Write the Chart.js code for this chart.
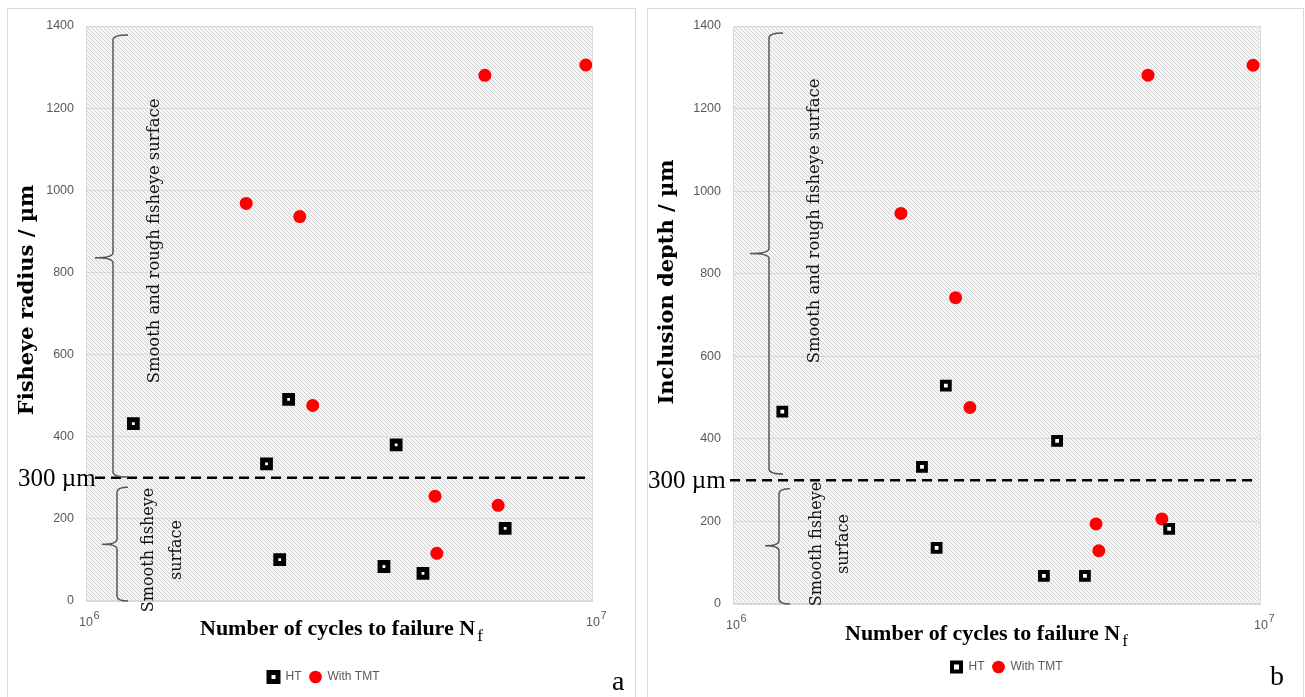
<!DOCTYPE html>
<html>
<head>
<meta charset="utf-8">
<script src="https://cdn.jsdelivr.net/npm/chart.js@4.4.1/dist/chart.umd.min.js"></script>
<style>
  body { margin: 0; width: 1305px; height: 697px; position: relative; overflow: hidden; background: #fff; }
  .panel { position: absolute; top: 8px; height: 720px; border: 1px solid #d9d9d9; box-sizing: border-box; }
  canvas { position: absolute; top: 0; }
</style>
</head>
<body>
<div class="panel" style="left:7px; width:629px;"></div>
<div class="panel" style="left:647px; width:657px;"></div>
<canvas id="chartA" width="640" height="697" style="left:0px"></canvas>
<canvas id="chartB" width="665" height="697" style="left:640px"></canvas>

<script>
// ---- data ----
const seriesNames = ['HT', 'With TMT'];
const xTickValues = [1e6, 1e7];
const xTickExponents = ['6', '7'];   // tick labels are 10^6 and 10^7
const yTicks = [0, 200, 400, 600, 800, 1000, 1200, 1400];

// panel a: fisheye radius (µm) vs cycles to failure
const htCyclesA = [1.24e6, 2.27e6, 2.51e6, 2.41e6, 4.09e6, 3.87e6, 4.62e6, 6.71e6];
const htRadiusA = [432, 334, 491, 101, 380, 84, 67, 177];
const tmtCyclesA = [2.07e6, 2.64e6, 2.80e6, 6.12e6, 9.68e6, 4.88e6, 4.92e6, 6.50e6];
const tmtRadiusA = [968, 936, 476, 1280, 1305, 255, 116, 233];

// panel b: inclusion depth (µm) vs cycles to failure
const htCyclesB = [1.24e6, 2.28e6, 2.43e6, 2.53e6, 4.11e6, 3.88e6, 4.64e6, 6.70e6];
const htDepthB = [466, 332, 136, 529, 395, 68, 68, 182];
const tmtCyclesB = [2.08e6, 2.64e6, 2.81e6, 6.11e6, 9.66e6, 4.87e6, 4.93e6, 6.49e6];
const tmtDepthB = [946, 742, 476, 1281, 1305, 194, 129, 206];

const threshold = 300;

function toPoints(xs, ys) {
    return xs.map((x, i) => ({ x: x, y: ys[i] }));
}

function hatchPattern(ctx) {
    const c = document.createElement('canvas');
    c.width = 4; c.height = 4;
    const g = c.getContext('2d');
    g.fillStyle = '#f5f5f5';
    g.fillRect(0, 0, 4, 4);
    g.strokeStyle = '#d2d2d2';
    g.lineWidth = 1;
    g.beginPath();
    g.moveTo(0, 0); g.lineTo(4, 4);
    g.moveTo(-1, 3); g.lineTo(1, 5);
    g.moveTo(3, -1); g.lineTo(5, 1);
    g.stroke();
    return ctx.createPattern(c, 'repeat');
}

function drawBrace(ctx, x, yTop, yMid, yBot, hook, tip) {
    ctx.beginPath();
    ctx.moveTo(x + hook, yTop);
    ctx.quadraticCurveTo(x, yTop, x, yTop + 5);
    ctx.lineTo(x, yMid - 5);
    ctx.quadraticCurveTo(x, yMid, x - tip, yMid);
    ctx.moveTo(x - tip, yMid);
    ctx.quadraticCurveTo(x, yMid, x, yMid + 5);
    ctx.lineTo(x, yBot - 5);
    ctx.quadraticCurveTo(x, yBot, x + hook, yBot);
    ctx.stroke();
}

function rotatedText(ctx, text, x, y, font) {
    ctx.save();
    ctx.translate(x, y);
    ctx.rotate(-Math.PI / 2);
    ctx.font = font;
    ctx.textAlign = 'center';
    ctx.textBaseline = 'middle';
    ctx.fillText(text, 0, 0);
    ctx.restore();
}

// hatch background, threshold line, braces and the figure's annotations
const sketchPlugin = {
    id: 'sketch',
    afterLayout(chart, args, o) {
        // legend in the figure sits a bit right of the canvas centre
        if (chart.legend) {
            chart.legend.left += o.legendShift;
            chart.legend.right += o.legendShift;
        }
    },
    beforeDraw(chart, args, o) {
        const { ctx, chartArea: a } = chart;
        ctx.save();
        ctx.fillStyle = hatchPattern(ctx);
        ctx.fillRect(a.left, a.top, a.right - a.left, a.bottom - a.top);
        ctx.restore();
    },
    afterDraw(chart, args, o) {
        const { ctx, chartArea: a } = chart;
        const y = chart.scales.y;
        const x = chart.scales.x;
        ctx.save();
        ctx.strokeStyle = '#d9d9d9';
        ctx.lineWidth = 1;
        ctx.strokeRect(a.left + 0.5, a.top + 0.5, a.right - a.left - 1, a.bottom - a.top - 1);

        // exponents of the 10^n tick labels
        ctx.fillStyle = '#595959';
        ctx.font = '11px "Liberation Sans", sans-serif';
        ctx.textAlign = 'left';
        ctx.textBaseline = 'alphabetic';
        xTickValues.forEach((v, i) => {
            ctx.fillText(xTickExponents[i], x.getPixelForValue(v) + 7.5, a.bottom + 18);
        });

        // 300 µm threshold
        const yt = y.getPixelForValue(threshold);
        ctx.strokeStyle = '#000';
        ctx.lineWidth = 2.5;
        ctx.setLineDash([10, 6]);
        ctx.beginPath();
        ctx.moveTo(o.dashStart, yt);
        ctx.lineTo(a.right - 3, yt);
        ctx.stroke();
        ctx.setLineDash([]);

        // braces
        ctx.strokeStyle = '#555';
        ctx.lineWidth = 1.5;
        o.braces.forEach(b => {
            drawBrace(ctx, a.left + b.dx, y.getPixelForValue(b.top), y.getPixelForValue(b.mid),
                y.getPixelForValue(b.bot), b.hook, b.tip);
        });

        ctx.fillStyle = '#111';
        const serif = '"DejaVu Serif", serif';
        rotatedText(ctx, 'Smooth and rough fisheye surface', o.roughText[0], o.roughText[1], '16.4px ' + serif);
        rotatedText(ctx, 'Smooth fisheye', o.smoothText[0], o.smoothText[1], '16px ' + serif);
        rotatedText(ctx, 'surface', o.smoothText[0] + o.smoothGap, o.smoothText[1], '16px ' + serif);

        // axis titles
        ctx.fillStyle = '#000';
        rotatedText(ctx, o.yTitle, o.yTitlePos[0], o.yTitlePos[1], 'bold 21px ' + serif);
        ctx.font = 'bold 22px "Liberation Serif", serif';
        ctx.textAlign = 'left';
        ctx.textBaseline = 'alphabetic';
        const xt = 'Number of cycles to failure N';
        ctx.fillText(xt, o.xTitlePos[0], o.xTitlePos[1]);
        const w = ctx.measureText(xt).width;
        ctx.font = '17px "Liberation Serif", serif';
        ctx.fillText('f', o.xTitlePos[0] + w + 2, o.xTitlePos[1] + 6);

        ctx.font = '25px "Liberation Serif", serif';
        ctx.fillText('300 µm', o.thresholdLabel, yt + 8);

        ctx.font = '28px "Liberation Serif", serif';
        ctx.fillText(o.letter, o.letterPos[0], o.letterPos[1]);
        ctx.restore();
    }
};

function makeChart(id, htX, htY, tmtX, tmtY, opts) {
    const ctx = document.getElementById(id).getContext('2d');
    return new Chart(ctx, {
        type: 'scatter',
        data: {
            datasets: [{
                label: seriesNames[0],
                data: toPoints(htX, htY),
                pointStyle: 'rect',
                pointRadius: 5.5,
                pointHoverRadius: 5.5,
                pointBorderWidth: opts.squareBorder,
                pointBorderColor: '#000',
                pointBackgroundColor: '#fff',
                borderColor: '#000',
                backgroundColor: '#fff'
            }, {
                label: seriesNames[1],
                data: toPoints(tmtX, tmtY),
                pointStyle: 'circle',
                pointRadius: 6.5,
                pointHoverRadius: 6.5,
                pointBorderWidth: 0,
                pointBorderColor: '#ff0000',
                pointBackgroundColor: '#ff0000',
                borderColor: '#ff0000',
                backgroundColor: '#ff0000'
            }]
        },
        options: {
            responsive: false,
            animation: false,
            layout: {
                padding: { top: 26, right: opts.padRight, left: 0, bottom: opts.padBottom }
            },
            scales: {
                x: {
                    type: 'logarithmic',
                    min: xTickValues[0],
                    max: xTickValues[1],
                    afterBuildTicks: axis => {
                        axis.ticks = xTickValues.map(v => ({ value: v }));
                    },
                    afterFit: axis => { axis.height = opts.xHeight; },
                    grid: { display: false },
                    border: { display: false },
                    ticks: {
                        padding: 6,
                        color: '#595959',
                        font: { family: '"Liberation Sans", sans-serif', size: 12.5 },
                        callback: () => '10'
                    }
                },
                y: {
                    min: 0,
                    max: 1400,
                    afterBuildTicks: axis => {
                        axis.ticks = yTicks.map(v => ({ value: v }));
                    },
                    afterFit: axis => { axis.width = opts.yWidth; },
                    grid: { color: '#d9d9d9', drawTicks: false },
                    border: { display: false },
                    ticks: {
                        padding: 12,
                        color: '#595959',
                        font: { family: '"Liberation Sans", sans-serif', size: 12.5 },
                        callback: (v) => String(v)
                    }
                }
            },
            plugins: {
                legend: {
                    position: 'bottom',
                    labels: {
                        usePointStyle: true,
                        boxHeight: 9,
                        padding: 8,
                        color: '#595959',
                        font: { family: '"Liberation Sans", sans-serif', size: 12 }
                    }
                },
                tooltip: { enabled: false },
                sketch: opts.sketch
            }
        },
        plugins: [sketchPlugin]
    });
}

makeChart('chartA', htCyclesA, htRadiusA, tmtCyclesA, tmtRadiusA, {
    padRight: 47, padBottom: 4, xHeight: 62, yWidth: 86, squareBorder: 5,
    sketch: {
        legendShift: 27,
        dashStart: 95,
        braces: [
            { dx: 27, top: 1378, mid: 836, bot: 302, hook: 15, tip: 18 },
            { dx: 31, top: 277, mid: 138, bot: 0, hook: 11, tip: 15 }
        ],
        roughText: [155, 241],
        smoothText: [149, 550],
        smoothGap: 28,
        yTitle: 'Fisheye radius / µm',
        yTitlePos: [28, 300],
        xTitlePos: [200, 635],
        thresholdLabel: 18,
        letter: 'a',
        letterPos: [612, 690]
    }
});

makeChart('chartB', htCyclesB, htDepthB, tmtCyclesB, tmtDepthB, {
    padRight: 44, padBottom: 14, xHeight: 49, yWidth: 93, squareBorder: 4,
    sketch: {
        legendShift: 56,
        dashStart: 90,
        braces: [
            { dx: 36, top: 1383, mid: 849, bot: 315, hook: 14, tip: 19 },
            { dx: 46, top: 279, mid: 141, bot: 0, hook: 11, tip: 14 }
        ],
        roughText: [175, 221],
        smoothText: [177, 544],
        smoothGap: 27,
        yTitle: 'Inclusion depth / µm',
        yTitlePos: [28, 282],
        xTitlePos: [205, 640],
        thresholdLabel: 8,
        letter: 'b',
        letterPos: [630, 685]
    }
});
</script>
</body>
</html>
